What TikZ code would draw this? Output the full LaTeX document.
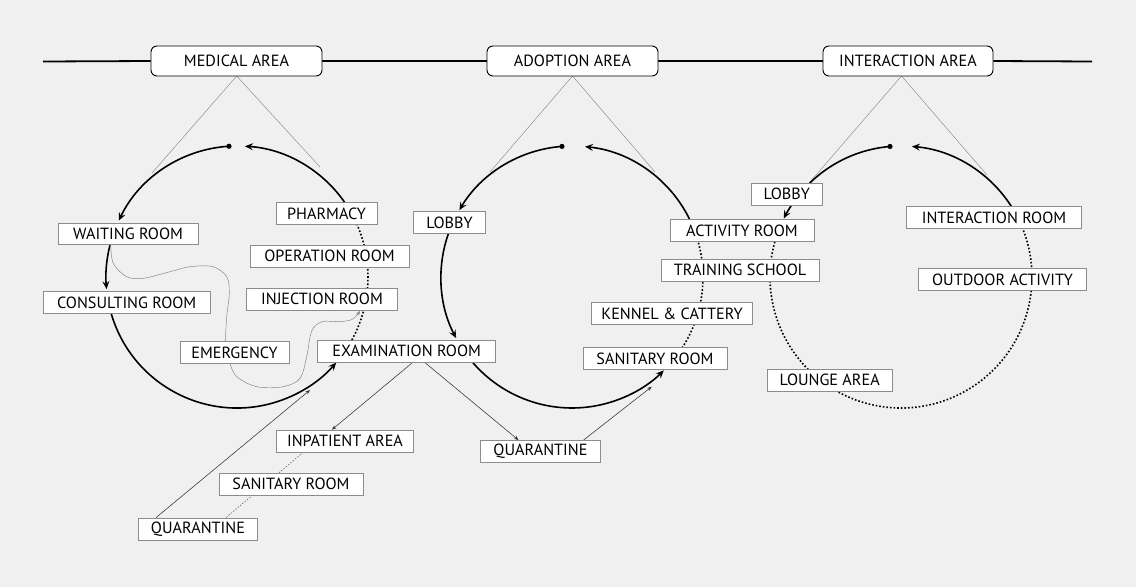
\documentclass[tikz,border=0pt]{standalone}
\usepackage{fontspec}
\setmainfont{PT Sans}
\usetikzlibrary{arrows.meta,calc}
\definecolor{bg}{HTML}{F0F0F0}
\definecolor{boxline}{HTML}{8C8C8C}
\definecolor{thinline}{HTML}{808080}
\pgfdeclarelayer{back}
\pgfsetlayers{back,main}
\begin{document}
\begin{tikzpicture}[x=1pt,y=-1pt,
  room/.style={draw=boxline, line width=0.8pt, fill=white, minimum height=22pt,
    inner sep=0pt, font=\fontsize{16.2}{16}\selectfont},
  area/.style={draw=black, line width=0.9pt, fill=white, rounded corners=6pt,
    minimum height=30pt, minimum width=171pt, inner sep=0pt,
    font=\fontsize{16.2}{16}\selectfont},
  flow/.style={line width=1.6pt},
  flowarrow/.style={line width=1.6pt, -{Stealth[length=8pt,width=7pt,inset=3pt]}},
  dotflow/.style={line width=1.6pt, dash pattern=on 1.6pt off 2pt},
  tri/.style={draw=thinline, line width=0.4pt},
  wave/.style={draw=thinline, line width=0.45pt},
  thinarrow/.style={draw=black!80, line width=0.55pt, -{Stealth[length=4.5pt,width=3.5pt]}},
  thindot/.style={draw=black!60, line width=0.6pt, dash pattern=on 1.5pt off 1.5pt}
]
\useasboundingbox (0,0) rectangle (1136,587);

% top areas
\node[area] (MA) at (236.5,61) {MEDICAL AREA};
\node[area] (AA) at (572.5,61) {ADOPTION AREA};
\node[area, minimum width=170pt] (IA) at (908,61) {INTERACTION AREA};

% left rooms
\node[room, minimum width=140pt, minimum height=21pt] (WR) at (128,233.5) {WAITING ROOM};
\node[room, minimum width=167pt] (CR) at (126.7,302.5) {CONSULTING ROOM};
\node[room, minimum width=101pt] (PH) at (326.5,213.5) {PHARMACY};
\node[room, minimum width=159pt] (OR) at (329.5,256) {OPERATION ROOM};
\node[room, minimum width=151pt] (IR) at (322,299) {INJECTION ROOM};
\node[room, minimum width=109pt] (EM) at (234.5,352.5) {EMERGENCY};
\node[room, minimum width=178pt] (EX) at (406.7,351) {EXAMINATION ROOM};
\node[room, minimum width=137pt] (IP) at (345,441) {INPATIENT AREA};
\node[room, minimum width=144pt] (SL) at (291,484) {SANITARY ROOM};
\node[room, minimum width=119pt] (QL) at (198,529) {QUARANTINE};
% middle rooms
\node[room, minimum width=72pt] (LM) at (449.5,222.5) {LOBBY};
\node[room, minimum width=120pt] (QM) at (540.5,451.5) {QUARANTINE};
\node[room, minimum width=144pt] (SM) at (655,358.5) {SANITARY ROOM};
\node[room, minimum width=161pt] (KC) at (672,313.5) {KENNEL \& CATTERY};
\node[room, minimum width=158pt] (TS) at (740,270) {TRAINING SCHOOL};
\node[room, minimum width=144pt] (AR) at (742,230.5) {ACTIVITY ROOM};
% right rooms
\node[room, minimum width=71pt] (LR) at (786.7,194) {LOBBY};
\node[room, minimum width=175pt] (XR) at (994,217.5) {INTERACTION ROOM};
\node[room, minimum width=168pt] (OA) at (1002.5,279.5) {OUTDOOR ACTIVITY};
\node[room, minimum width=125pt] (LA) at (829.7,380) {LOUNGE AREA};

% circle centres
\coordinate (Lc) at (237,277);
\coordinate (Mc) at (572,277);
\coordinate (Rc) at (901,277);

\begin{pgfonlayer}{back}
\fill[bg] (0,0) rectangle (1136,587);
% main line
\draw[line width=1.8pt] (43,61.5) -- (MA.west);
\draw[line width=1.8pt] (MA.east) -- (AA.west);
\draw[line width=1.8pt] (AA.east) -- (IA.west);
\draw[line width=1.8pt] (IA.east) -- (1092,61.5);

% triangles
\coordinate (MAt) at (236.7,76);
\coordinate (AAt) at (572.5,76);
\coordinate (IAt) at (901.5,76);
\draw[tri] (152,173) -- (MAt) -- (320,167);
\draw[tri] (490,172) -- (AAt) -- (655,172);
\draw[tri] (810,182) -- (IAt) -- (987,175);

% left circle
\coordinate (Ldot) at ($(Lc)+(-93.5:131)$);
\draw[flowarrow] (Ldot) arc[start angle=-93.5, end angle=-154.5, radius=131];
\draw[flowarrow] ($(Lc)+(-165.4:131)$) arc[start angle=-165.4, end angle=-185.3, radius=131];
\draw[flowarrow] ($(Lc)+(-196:131)$) arc[start angle=-196, end angle=-319.2, radius=131];
\draw[dotflow] ($(Lc)+(28.7:131)$) arc[start angle=28.7, end angle=-23.9, radius=131];
\draw[flowarrow] ($(Lc)+(-34.8:131)$) arc[start angle=-34.8, end angle=-86.5, radius=131];
% middle circle
\coordinate (Mdot) at ($(Mc)+(-94.4:131)$);
\draw[flowarrow] (Mdot) arc[start angle=-94.4, end angle=-149.3, radius=131];
\draw[flowarrow] ($(Mc)+(-160.4:131)$) arc[start angle=-160.4, end angle=-207.8, radius=131];
\draw[flowarrow] ($(Mc)+(-220.4:131)$) arc[start angle=-220.4, end angle=-314.5, radius=131];
\draw[dotflow] ($(Mc)+(32.8:131)$) arc[start angle=32.8, end angle=-15.6, radius=131];
\draw[flowarrow] ($(Mc)+(-26.3:131)$) arc[start angle=-26.3, end angle=-84.3, radius=131];
% right circle
\coordinate (Rdot) at ($(Rc)+(-94.8:131)$);
\draw[flow] (Rdot) arc[start angle=-94.8, end angle=-134.2, radius=131];
\draw[flowarrow] ($(Rc)+(-146.7:131)$) arc[start angle=-146.7, end angle=-153.5, radius=131];
\draw[dotflow] ($(Rc)+(-164.4:131)$) arc[start angle=-164.4, end angle=-381.8, radius=131];
\draw[flowarrow] ($(Rc)+(-32.5:131)$) arc[start angle=-32.5, end angle=-85.2, radius=131];

% emergency routes
\coordinate (wr1) at (110.7,244.5);
\coordinate (em1) at (225.3,341.5);
\coordinate (em2) at (230,363.5);
\coordinate (ir1) at (360,311);
\draw[wave] plot[smooth, tension=0.55] coordinates {(wr1) (113.3,263.3) (126.7,276.7) (143.3,278.3) (170,271.7) (190,266.7) (213,266.7) (226.7,276.7) (229.3,293.3) (226.7,316.7) (em1)};
\draw[wave, -{Stealth[length=4.5pt,width=3.5pt]}] plot[smooth, tension=0.55] coordinates {(em2) (236.7,376.7) (256.7,386.7) (283.3,386.7) (300,378.3) (306.7,356.7) (311.7,331) (322,321.7) (338,321.7) (352,319.5) (ir1)};

% thin connectors
\coordinate (qlx) at (310,390);
\coordinate (qmx) at (651.7,386.7);
\draw[thinarrow] ($(EX.south)+(6,0)$) -- ($(IP.north)+(-13,0)$);
\draw[thinarrow] ($(EX.south)+(18,0)$) -- ($(QM.north)+(-22,0)$);
\draw[thinarrow] ($(QM.north)+(43,0)$) -- (qmx);
\draw[thinarrow] ($(QL.north)+(-42,0)$) -- (qlx);
\draw[thindot] ($(IP.south)+(-42,0)$) -- ($(QL.north)+(28,0)$);
\end{pgfonlayer}

\fill (Ldot) circle[radius=2.6pt];
\fill (Mdot) circle[radius=2.6pt];
\fill (Rdot) circle[radius=2.6pt];
\end{tikzpicture}
\end{document}
